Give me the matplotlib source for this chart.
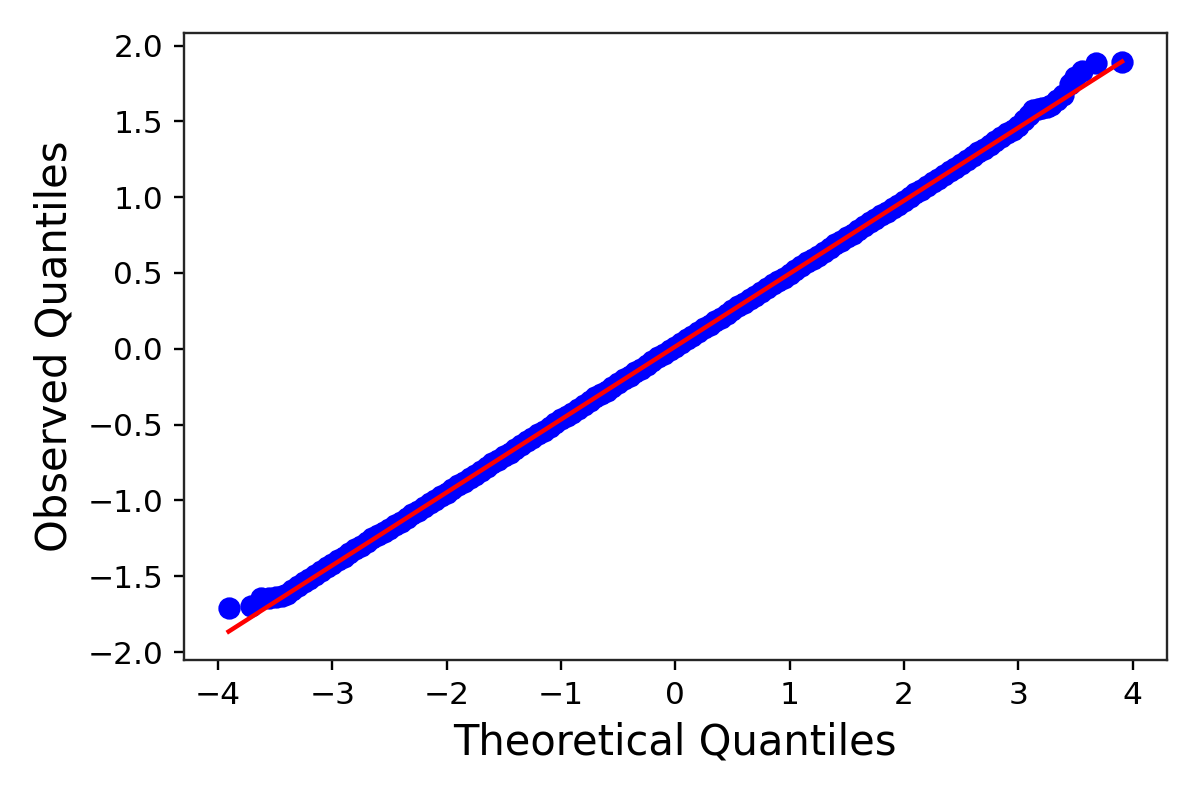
import numpy as np
import matplotlib
matplotlib.use("Agg")
import matplotlib.pyplot as plt

# Q-Q plot values
lower_tail_x = [-3.907, -3.715, -3.62, -3.55, -3.49, -3.44, -3.40, -3.35,
                -3.30, -3.25, -3.20, -3.15, -3.10, -3.05]
lower_tail_y = [-1.706, -1.695, -1.645, -1.64, -1.635, -1.63, -1.615, -1.59,
                -1.565, -1.54, -1.515, -1.49, -1.465, -1.44]

body_x = [-3.0, -2.95, -2.9, -2.85, -2.8, -2.75, -2.7, -2.65, -2.6, -2.55,
          -2.5, -2.45, -2.4, -2.35, -2.3, -2.25, -2.2, -2.15, -2.1, -2.05,
          -2.0, -1.95, -1.9, -1.85, -1.8, -1.75, -1.7, -1.65, -1.6, -1.55,
          -1.5, -1.45, -1.4, -1.35, -1.3, -1.25, -1.2, -1.15, -1.1, -1.05,
          -1.0, -0.95, -0.9, -0.85, -0.8, -0.75, -0.7, -0.65, -0.6, -0.55,
          -0.5, -0.45, -0.4, -0.35, -0.3, -0.25, -0.2, -0.15, -0.1, -0.05,
          0.0, 0.05, 0.1, 0.15, 0.2, 0.25, 0.3, 0.35, 0.4, 0.45,
          0.5, 0.55, 0.6, 0.65, 0.7, 0.75, 0.8, 0.85, 0.9, 0.95,
          1.0, 1.05, 1.1, 1.15, 1.2, 1.25, 1.3, 1.35, 1.4, 1.45,
          1.5, 1.55, 1.6, 1.65, 1.7, 1.75, 1.8, 1.85, 1.9, 1.95,
          2.0, 2.05, 2.1, 2.15, 2.2, 2.25, 2.3, 2.35, 2.4, 2.45,
          2.5, 2.55, 2.6, 2.65, 2.7, 2.75, 2.8, 2.85, 2.9, 2.95]
body_y = [-1.42, -1.395, -1.37, -1.345, -1.32, -1.30, -1.275, -1.25, -1.23, -1.205,
          -1.185, -1.16, -1.14, -1.115, -1.09, -1.07, -1.045, -1.02, -0.995, -0.97,
          -0.95, -0.925, -0.90, -0.875, -0.855, -0.83, -0.805, -0.78, -0.755, -0.73,
          -0.71, -0.685, -0.66, -0.635, -0.61, -0.59, -0.565, -0.54, -0.515, -0.49,
          -0.465, -0.44, -0.42, -0.395, -0.37, -0.345, -0.32, -0.30, -0.275, -0.25,
          -0.225, -0.20, -0.18, -0.155, -0.13, -0.105, -0.08, -0.055, -0.035, -0.01,
          0.015, 0.04, 0.065, 0.085, 0.11, 0.135, 0.16, 0.185, 0.205, 0.23,
          0.255, 0.28, 0.305, 0.33, 0.35, 0.375, 0.40, 0.425, 0.45, 0.47,
          0.495, 0.52, 0.545, 0.57, 0.59, 0.615, 0.64, 0.665, 0.69, 0.71,
          0.735, 0.76, 0.785, 0.81, 0.835, 0.855, 0.88, 0.905, 0.93, 0.95,
          0.975, 1.0, 1.025, 1.05, 1.075, 1.10, 1.12, 1.145, 1.17, 1.195,
          1.22, 1.245, 1.27, 1.295, 1.32, 1.345, 1.37, 1.395, 1.42, 1.445]

upper_tail_x = [3.0, 3.05, 3.09, 3.13, 3.17, 3.21, 3.25, 3.29, 3.34, 3.39,
                3.45, 3.50, 3.56, 3.68, 3.907]
upper_tail_y = [1.47, 1.51, 1.545, 1.575, 1.583, 1.588, 1.595, 1.605, 1.64, 1.675,
                1.745, 1.79, 1.835, 1.883, 1.893]

# fitted reference line
line_slope = 0.481
line_intercept = 0.015

theoretical = np.array(lower_tail_x + body_x + upper_tail_x)
observed = np.array(lower_tail_y + body_y + upper_tail_y)

dpi = 214
fig = plt.figure(figsize=(1196 / dpi, 798 / dpi), dpi=dpi)
ax = fig.add_axes([0.1538, 0.1729, 0.8217, 0.7857])

ax.plot(theoretical, observed, marker="o", markersize=6.5, linestyle="none",
        markerfacecolor="b", markeredgecolor="b")

line_x = np.array([theoretical.min(), theoretical.max()])
ax.plot(line_x, line_intercept + line_slope * line_x, "r-")

ax.set_xlabel("Theoretical Quantiles", fontsize=14)
ax.set_ylabel("Observed Quantiles", fontsize=14)
ax.tick_params(labelsize=10.5)
for side in ax.spines.values():
    side.set_color("#262626")

fig.savefig("out.png", dpi=dpi)
